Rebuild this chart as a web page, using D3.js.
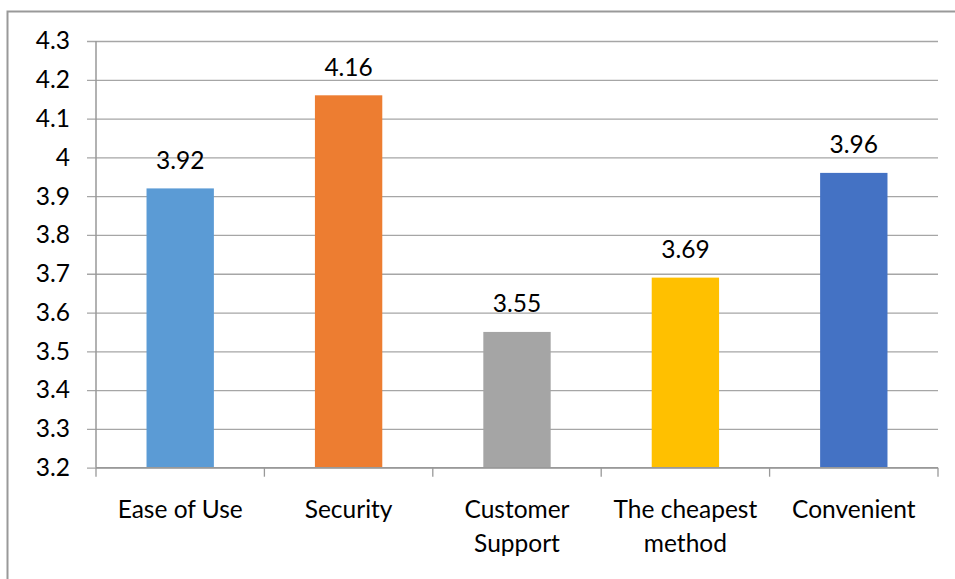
<!DOCTYPE html>
<html>
<head>
<meta charset="utf-8">
<script src="https://cdn.jsdelivr.net/npm/d3@7"></script>
<style>
  html, body { margin: 0; padding: 0; background: #fff; }
  svg { display: block; }
  text { font-family: Lato, "Open Sans", sans-serif; fill: #000; }
</style>
</head>
<body>
<svg id="chart" width="955" height="579"></svg>
<script>
const categories = [["Ease of Use"], ["Security"], ["Customer", "Support"], ["The cheapest", "method"], ["Convenient"]];
const values = [3.92, 4.16, 3.55, 3.69, 3.96];
const colors = ["#5B9BD5", "#ED7D31", "#A5A5A5", "#FFC000", "#4472C4"];
const yTicks = [3.2, 3.3, 3.4, 3.5, 3.6, 3.7, 3.8, 3.9, 4.0, 4.1, 4.2, 4.3];

(function () {
const svg = d3.select("#chart");
const W = 955, H = 579;
const pLeft = 96, pRight = 938, pTop = 41, pBottom = 467.7;
const gridColor = "#a6a6a6", axisColor = "#999999";
const fs = "24.5px";

// outer border (left & top visible)
svg.append("path")
  .attr("d", `M7.5,${H} L7.5,11.5 L${W},11.5`)
  .attr("fill", "none").attr("stroke", "#999").attr("stroke-width", 2);

const x = d3.scaleBand().domain(d3.range(categories.length)).range([pLeft, pRight]).paddingInner(0).paddingOuter(0);
const y = d3.scaleLinear().domain([3.2, 4.3]).range([pBottom, pTop]);
const barW = x.bandwidth() / 2.5;

// gridlines with ticks extending left
const yAxis = d3.axisLeft(y).tickValues(yTicks)
  .tickSize(-(pRight - pLeft)).tickSizeOuter(0)
  .tickFormat(d => String(+d.toFixed(1)));
const gy = svg.append("g").attr("transform", `translate(${pLeft},0)`).call(yAxis);
gy.select(".domain").remove();
gy.selectAll(".tick line").attr("stroke", gridColor).attr("stroke-width", 1.3)
  .attr("x1", -9);
gy.selectAll(".tick text").attr("x", -26).attr("font-size", fs)
  .attr("font-family", "Lato, 'Open Sans', sans-serif").attr("fill", "#000");

// y axis line
svg.append("line").attr("x1", pLeft).attr("x2", pLeft).attr("y1", pTop).attr("y2", pBottom)
  .attr("stroke", axisColor).attr("stroke-width", 1.5);

// bars
svg.selectAll("rect.bar").data(values).join("rect")
  .attr("class", "bar")
  .attr("x", (d, i) => x(i) + (x.bandwidth() - barW) / 2)
  .attr("width", barW)
  .attr("y", d => y(d))
  .attr("height", d => y(3.2) - y(d))
  .attr("fill", (d, i) => colors[i]);

// x axis
const boundaries = d3.range(categories.length + 1).map(i => i < categories.length ? x(i) : x(categories.length - 1) + x.bandwidth());
svg.append("line").attr("x1", pLeft).attr("x2", pRight).attr("y1", pBottom).attr("y2", pBottom)
  .attr("stroke", axisColor).attr("stroke-width", 1.5);
svg.selectAll("line.xtick").data(boundaries).join("line")
  .attr("class", "xtick")
  .attr("x1", d => d).attr("x2", d => d).attr("y1", pBottom).attr("y2", pBottom + 9)
  .attr("stroke", axisColor).attr("stroke-width", 1.3);

// category labels
categories.forEach((lines, i) => {
  const cx = x(i) + x.bandwidth() / 2;
  const t = svg.append("text").attr("text-anchor", "middle").attr("font-size", fs)
    .attr("x", cx).attr("y", 518);
  lines.forEach((ln, j) => {
    t.append("tspan").attr("x", cx).attr("dy", j === 0 ? 0 : 33.5).text(ln);
  });
});

// value labels
svg.selectAll("text.val").data(values).join("text")
  .attr("class", "val").attr("text-anchor", "middle").attr("font-size", fs)
  .attr("x", (d, i) => x(i) + x.bandwidth() / 2)
  .attr("y", d => y(d) - 19.5)
  .text(d => d.toFixed(2));
})();
</script>
</body>
</html>
